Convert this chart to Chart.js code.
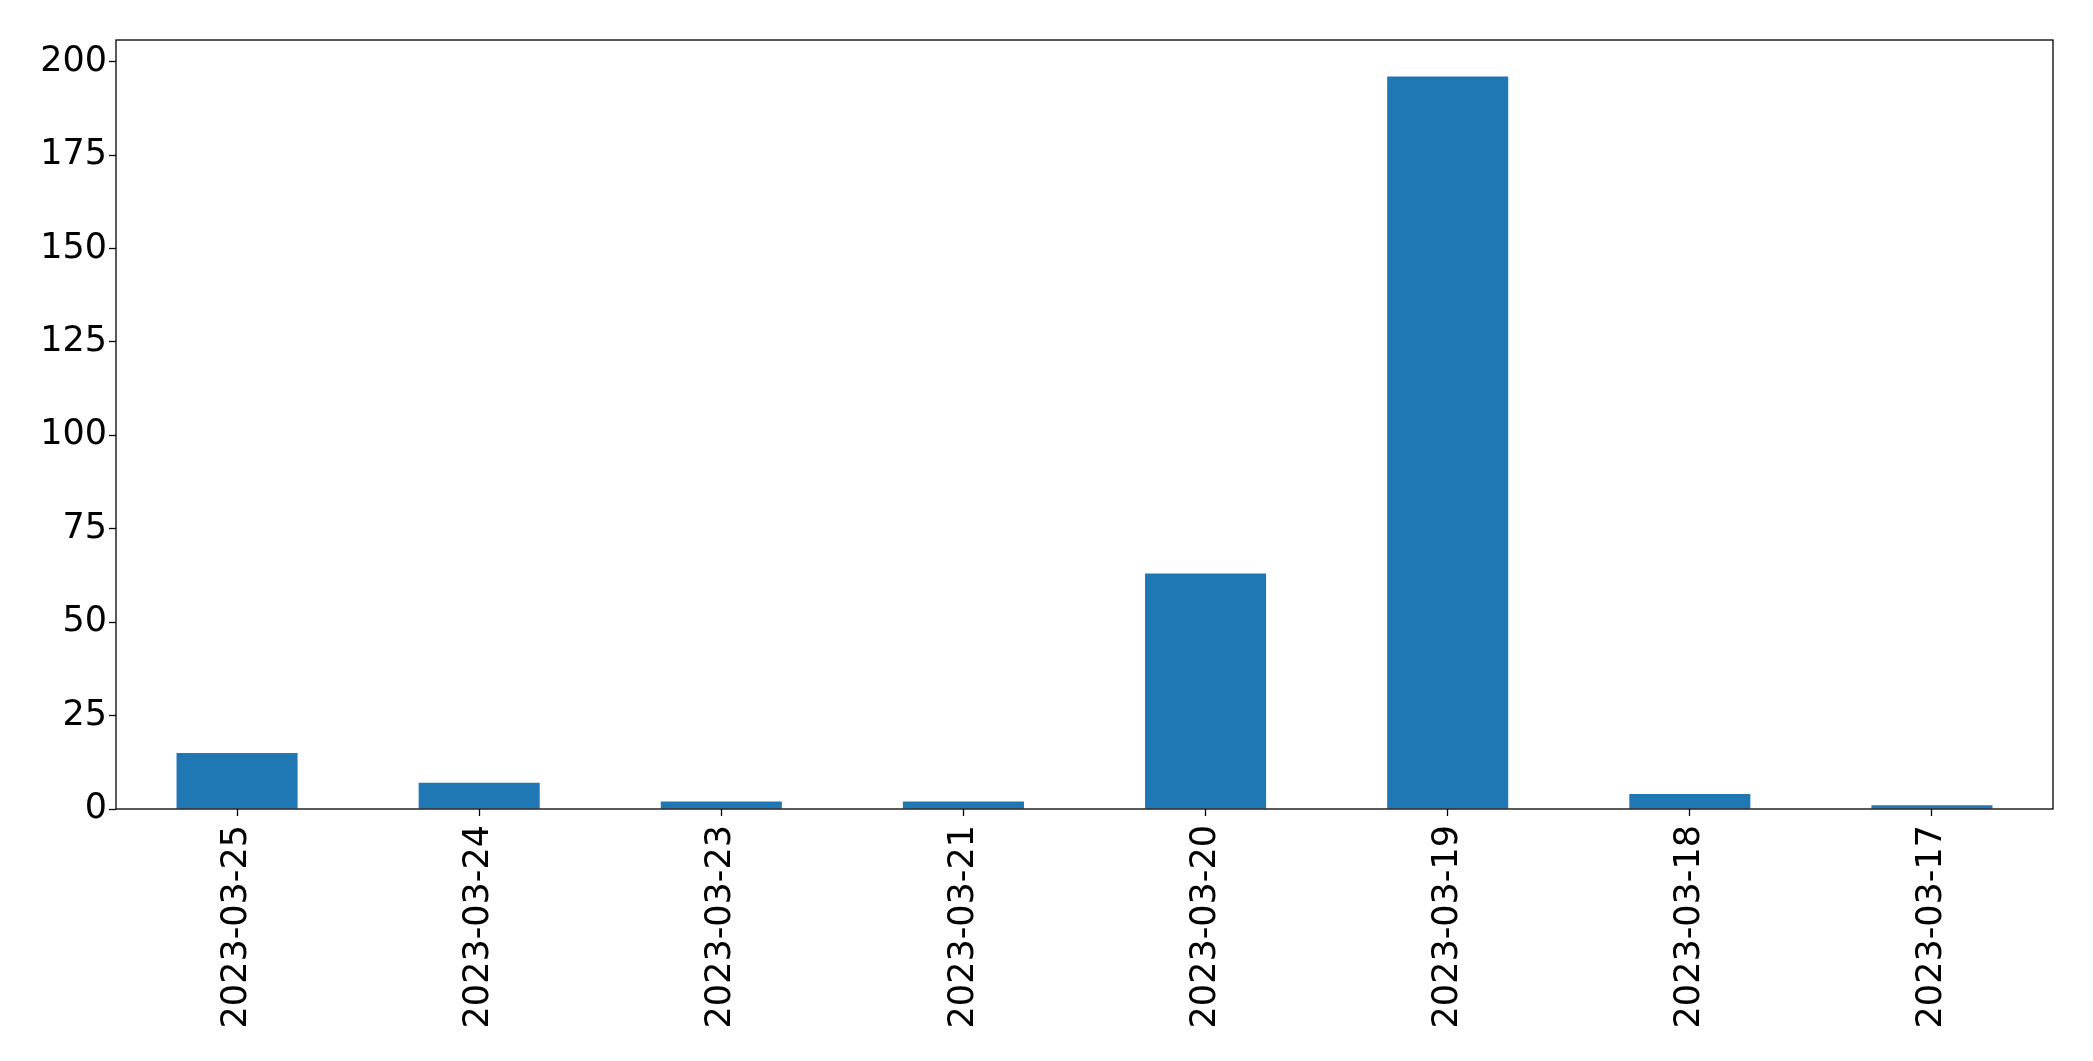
<!DOCTYPE html>
<html>
<head>
<meta charset="utf-8">
<script src="https://cdn.jsdelivr.net/npm/chart.js@4"></script>
<style>
  html, body { margin: 0; padding: 0; background: #fff; }
  .wrap { width: 2093px; height: 1061px; }
</style>
</head>
<body>
<div class="wrap"><canvas id="chart1"></canvas></div>
<script>
const dates = ['2023-03-25', '2023-03-24', '2023-03-23', '2023-03-21', '2023-03-20', '2023-03-19', '2023-03-18', '2023-03-17'];
const counts = [15, 7, 2, 2, 63, 196, 4, 1];
const yTicks = [0, 25, 50, 75, 100, 125, 150, 175, 200];

// matplotlib style frame round the plot area
const frame = {
  id: 'frame',
  afterDraw(chart) {
    const a = chart.chartArea;
    const ctx = chart.ctx;
    ctx.save();
    ctx.strokeStyle = '#000';
    ctx.lineWidth = 1.3;
    ctx.strokeRect(a.left, a.top, a.right - a.left, a.bottom - a.top);
    ctx.restore();
  }
};

const tickFont = { family: 'DejaVu Sans', size: 35 };

new Chart(document.getElementById('chart1'), {
  type: 'bar',
  data: {
    labels: dates,
    datasets: [{
      data: counts,
      backgroundColor: '#1f77b4',
      borderWidth: 0,
      barPercentage: 1,
      categoryPercentage: 0.5
    }]
  },
  options: {
    responsive: true,
    maintainAspectRatio: false,
    animation: false,
    layout: { padding: { top: 40, right: 40, left: 0, bottom: 0 } },
    plugins: { legend: { display: false }, tooltip: { enabled: false } },
    scales: {
      x: {
        grid: { drawOnChartArea: false, offset: false, tickLength: 7, color: '#000', tickWidth: 1.3 },
        border: { display: false },
        ticks: { color: '#000', font: tickFont, maxRotation: 90, minRotation: 90, padding: 9, autoSkip: false },
        afterFit(scale) { scale.height = 252; }
      },
      y: {
        min: 0,
        max: 196 * 1.05,
        grid: { drawOnChartArea: false, tickLength: 7, color: '#000', tickWidth: 1.3 },
        border: { display: false },
        ticks: { color: '#000', font: tickFont, padding: 2, stepSize: 25 },
        afterBuildTicks(scale) { scale.ticks = yTicks.map(v => ({ value: v })); },
        afterFit(scale) { scale.width = 116; }
      }
    }
  },
  plugins: [frame]
});
</script>
</body>
</html>
